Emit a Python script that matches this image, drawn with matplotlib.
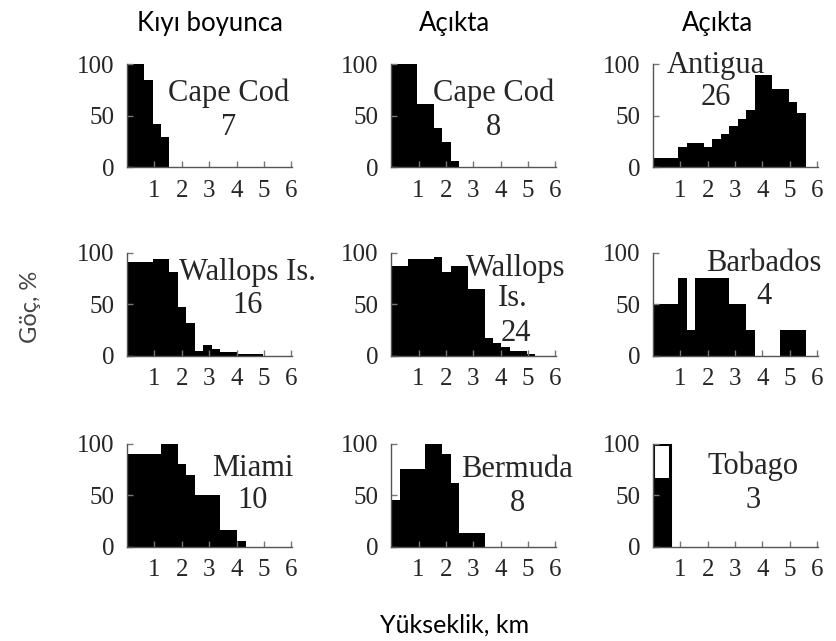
import matplotlib
matplotlib.use("Agg")
import matplotlib.pyplot as plt
import numpy as np

# bin width (km) of the altitude classes
BIN_KM = 0.31

# panel names and sample counts, row by row
names = ["Cape Cod", "Cape Cod", "Antigua",
         "Wallops Is.", "Wallops\nIs.", "Barbados",
         "Miami", "Bermuda", "Tobago"]
counts = ["7", "8", "26", "16", "24", "4", "10", "8", "3"]

# percentage per altitude bin, starting at 0 km
cape_cod_coast = [100, 100, 85, 42, 29]
cape_cod_off = [100, 100, 100, 61, 61, 38, 25, 6]
antigua = [9, 9, 9, 20, 24, 24, 20, 27, 32, 40, 47, 56, 89, 89, 76, 76, 63, 53]
wallops_coast = [91, 91, 91, 94, 94, 81, 47, 32, 5, 10, 7, 4, 4, 2, 2, 2]
wallops_off = [87, 87, 94, 94, 94, 96, 81, 87, 87, 65, 65, 17, 12, 8, 5, 5, 2]
barbados = [50, 50, 50, 75, 25, 75, 75, 75, 75, 50, 50, 25, 0, 0, 0, 25, 25, 25]
miami = [90, 90, 90, 90, 100, 100, 80, 70, 50, 50, 50, 16, 16, 6]
bermuda = [45, 75, 75, 75, 100, 100, 90, 62, 13, 13, 13]
tobago = [67, 67]
tobago_outline = [100, 100]

series = [cape_cod_coast, cape_cod_off, antigua,
          wallops_coast, wallops_off, barbados,
          miami, bermuda, tobago]

headers = ["Kıyı boyunca", "Açıkta", "Açıkta"]
x_ticks = [1, 2, 3, 4, 5, 6]
y_ticks = [0, 50, 100]

# layout (figure fractions) and label placement (data coords)
col_left = [0.152, 0.468, 0.781]
row_bottom = [0.739, 0.445, 0.147]
ax_w, ax_h = 0.197, 0.161
header_x = [0.251, 0.544, 0.858]
label_pos = [(3.7, 72, 39), (3.75, 72, 39), (2.3, 99, 68),
             (4.4, 81, 49), (4.55, 85, 22), (4.05, 89, 57),
             (4.6, 76, 45), (4.6, 75, 42), (3.67, 78, 45)]

serif = "Liberation Serif"
ink = "#262626"

fig = plt.figure(figsize=(8.36, 6.41), dpi=100)

for i, heights in enumerate(series):
    r, c = divmod(i, 3)
    ax = fig.add_axes([col_left[c], row_bottom[r], ax_w, ax_h])
    edges = np.arange(len(heights) + 1) * BIN_KM
    if i == 8:
        # Tobago: outlined column behind the filled part
        ax.stairs(tobago_outline, edges, fill=False, color="black",
                  linewidth=2.2, baseline=0)
    ax.stairs(heights, edges, fill=True, color="black", linewidth=0)

    ax.set_xlim(0, 6.02)
    ax.set_ylim(0, 100)
    ax.set_xticks(x_ticks)
    ax.set_yticks(y_ticks)
    for s in ["top", "right"]:
        ax.spines[s].set_visible(False)
    for s in ["left", "bottom"]:
        ax.spines[s].set_color("#555555")
        ax.spines[s].set_linewidth(1.0)
    ax.tick_params(direction="in", length=4, width=1, color="#777777",
                   labelcolor=ink, labelsize=18)
    ax.tick_params(axis="y", pad=9)
    ax.tick_params(axis="x", pad=9)
    for lab in ax.get_xticklabels() + ax.get_yticklabels():
        lab.set_fontfamily(serif)
    ax.patch.set_visible(False)

    lx, ly1, ly2 = label_pos[i]
    name = names[i]
    if "\n" in name:
        first, second = name.split("\n")
        ax.text(lx, ly1, first, ha="center", va="center", fontsize=22,
                family=serif, color=ink)
        ax.text(lx - 0.1, (ly1 + ly2) / 2 + 2, second, ha="center",
                va="center", fontsize=22, family=serif, color=ink)
    else:
        ax.text(lx, ly1, name, ha="center", va="center", fontsize=22,
                family=serif, color=ink)
    ax.text(lx, ly2, counts[i], ha="center", va="center", fontsize=22,
            family=serif, color=ink)

for c, h in enumerate(headers):
    fig.text(header_x[c], 0.964, h, ha="center", va="center",
             fontsize=18.5, family="Lato", color="black")

fig.text(0.036, 0.522, "Göç, %", rotation=90, ha="center", va="center",
         fontsize=17, family="Lato", color="#444444")
fig.text(0.544, 0.025, "Yükseklik, km", ha="center", va="center",
         fontsize=18, family="Lato", color="black")

fig.savefig("out.png", dpi=100)
